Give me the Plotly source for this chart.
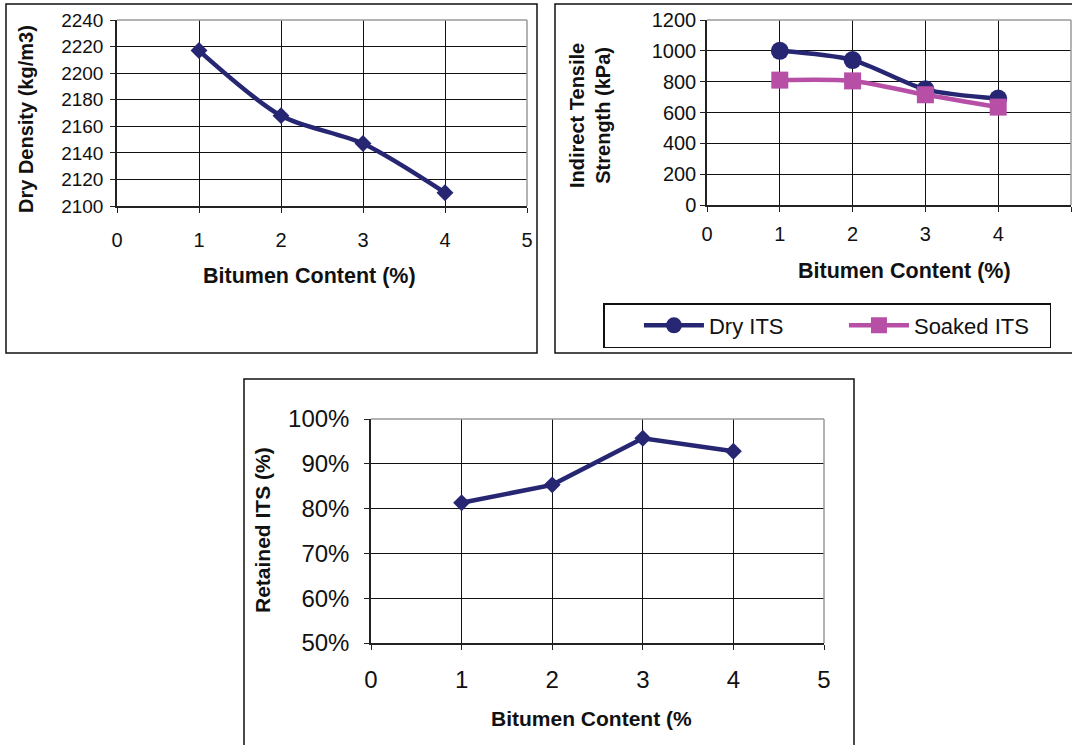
import plotly.graph_objects as go

W, H = 1072, 745

# Bitumen content levels (%)
bitumen = [1, 2, 3, 4]

# Dry density (kg/m3)
dry_density = [2217, 2168, 2147, 2110]

# Indirect tensile strength (kPa)
dry_its = [1000, 940, 750, 690]
soaked_its = [810, 805, 715, 635]

# Retained ITS (fraction)
retained_its = [0.813, 0.853, 0.957, 0.928]

NAVY = "#262672"
PINK = "#B84FA6"
FONT = "Liberation Sans, Arial, sans-serif"


def px(x, y):
    """Pixel position -> paper coordinates."""
    return x / W, 1 - y / H


def xdom(x0, x1):
    return [x0 / W, x1 / W]


def ydom(top, bottom):
    return [1 - bottom / H, 1 - top / H]


fig = go.Figure()

# Panel 1: dry density
fig.add_trace(go.Scatter(
    x=bitumen, y=dry_density, mode="lines+markers",
    line=dict(color=NAVY, width=4.5, shape="spline", smoothing=0.8),
    marker=dict(symbol="diamond", size=13, color=NAVY),
    xaxis="x", yaxis="y", showlegend=False,
))

# Panel 2: ITS dry / soaked
fig.add_trace(go.Scatter(
    x=bitumen, y=dry_its, mode="lines+markers", name="Dry ITS",
    line=dict(color=NAVY, width=4.5, shape="spline", smoothing=0.8),
    marker=dict(symbol="circle", size=18, color=NAVY),
    xaxis="x2", yaxis="y2",
))
fig.add_trace(go.Scatter(
    x=bitumen, y=soaked_its, mode="lines+markers", name="Soaked ITS",
    line=dict(color=PINK, width=4.5, shape="spline", smoothing=0.8),
    marker=dict(symbol="square", size=17, color=PINK),
    xaxis="x2", yaxis="y2",
))

# Panel 3: retained ITS
fig.add_trace(go.Scatter(
    x=bitumen, y=retained_its, mode="lines+markers",
    line=dict(color=NAVY, width=4.5),
    marker=dict(symbol="diamond", size=13, color=NAVY),
    xaxis="x3", yaxis="y3", showlegend=False,
))

axis_common = dict(
    showgrid=True, gridcolor="#111111", gridwidth=1,
    showline=True, linecolor="#222222", linewidth=1.5,
    ticks="outside", ticklen=5, tickcolor="#222222",
    zeroline=False, color="#111111", automargin=False,
)

fig.update_layout(
    width=W, height=H,
    margin=dict(l=0, r=0, t=0, b=0, pad=0, autoexpand=False),
    paper_bgcolor="white", plot_bgcolor="white",
    font=dict(family=FONT, color="#111111"),
    xaxis=dict(domain=xdom(117, 527), range=[0, 5], dtick=1,
               tickfont=dict(size=20), ticklabelstandoff=10, anchor="y", **axis_common),
    yaxis=dict(domain=ydom(20, 206), range=[2100, 2240], dtick=20,
               tickfont=dict(size=19), ticklabelstandoff=3, anchor="x", **axis_common),
    xaxis2=dict(domain=xdom(707, 1071), range=[0, 5], dtick=1,
                tickfont=dict(size=20), ticklabelstandoff=5, anchor="y2", **axis_common),
    yaxis2=dict(domain=ydom(20, 205), range=[0, 1200], dtick=200,
                tickfont=dict(size=20), ticklabelstandoff=0, anchor="x2", **axis_common),
    xaxis3=dict(domain=xdom(371, 824), range=[0, 5], dtick=1,
                tickfont=dict(size=24), ticklabelstandoff=9, anchor="y3", **axis_common),
    yaxis3=dict(domain=ydom(419, 643), range=[0.5, 1.0], dtick=0.1, tickformat=".0%",
                tickfont=dict(size=24), ticklabelstandoff=10, anchor="x3", **axis_common),
    legend=dict(
        orientation="h", x=603 / W, y=1 - 303 / H, xanchor="left", yanchor="top",
        bordercolor="#111111", borderwidth=1.5, bgcolor="white",
        font=dict(size=22, family=FONT), entrywidth=130, itemwidth=60, itemsizing="trace",
        title=dict(text="\u00a0" * 4, side="left", font=dict(size=22)),
    ),
)

shapes = []
# Outer frames of the three charts
for (x0, y0, x1, y1) in [(6, 4, 537, 353), (555, 4, 1080, 353), (244, 379, 854, 760)]:
    a0, b0 = px(x0, y0)
    a1, b1 = px(x1, y1)
    shapes.append(dict(type="rect", xref="paper", yref="paper", x0=a0, y0=b1, x1=a1, y1=b0,
                       line=dict(color="#111111", width=1.5), fillcolor="rgba(0,0,0,0)"))
# Grey top/right edges of the plot areas
for xa, ya in [("x", "y"), ("x2", "y2"), ("x3", "y3")]:
    for (sx0, sy0, sx1, sy1) in [(0, 1, 1, 1), (1, 1, 1, 0)]:
        shapes.append(dict(type="line", xref=f"{xa} domain", yref=f"{ya} domain",
                           x0=sx0, y0=sy0, x1=sx1, y1=sy1,
                           line=dict(color="#9a9a9a", width=1.5), layer="above"))
fig.update_layout(shapes=shapes)


def title(text, x, y, size, angle=0):
    ax, ay = px(x, y)
    fig.add_annotation(text=text, x=ax, y=ay, xref="paper", yref="paper",
                       showarrow=False, textangle=angle, xanchor="center", yanchor="middle",
                       font=dict(size=size, family=FONT, color="#111111"))


title("<b>Bitumen Content (%)</b>", 309, 276, 21.5)
title("<b>Dry Density (kg/m3)</b>", 26, 119, 20, -90)
title("<b>Bitumen Content (%)</b>", 904, 271, 21.5)
title("<b>Indirect Tensile<br>Strength (kPa)</b>", 590, 116, 20, -90)
title("<b>Bitumen Content (%</b>", 591, 718, 21)
title("<b>Retained ITS (%)</b>", 262, 530, 21, -90)

# Page without the default body margin so the figure fills the window exactly
fig.write_html(
    "out.html",
    post_script="document.body.style.margin='0';document.documentElement.style.overflow='hidden';",
)
